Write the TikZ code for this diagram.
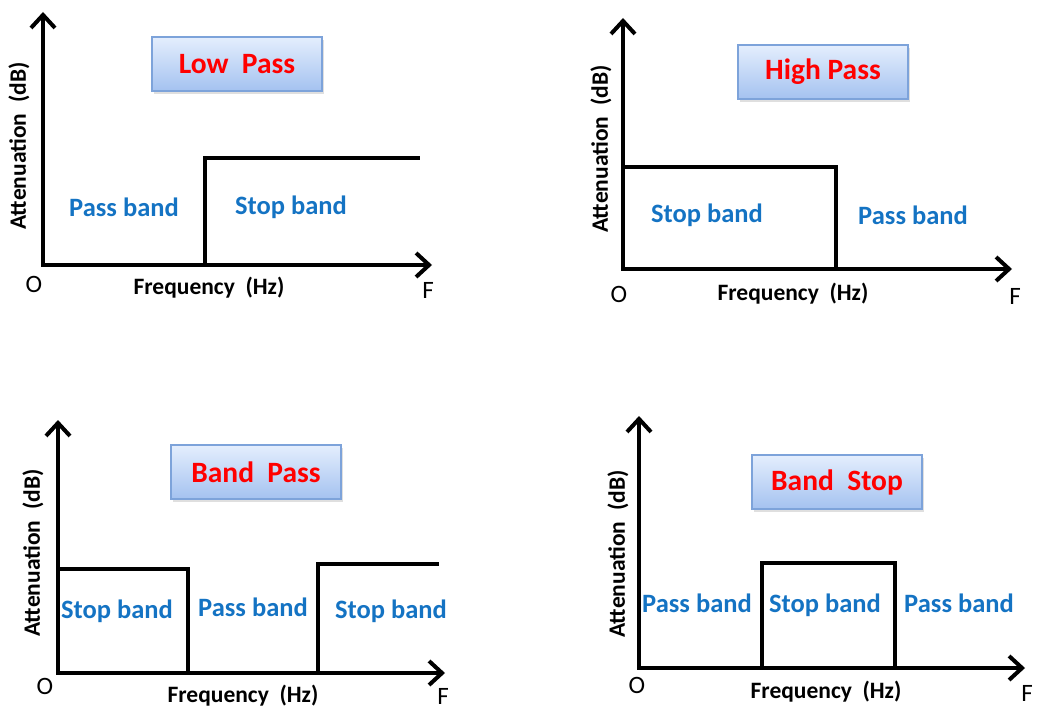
\documentclass[tikz,border=0pt]{standalone}
\usepackage{fontspec}
\setmainfont{Carlito}
\usetikzlibrary{arrows.meta,shadows}
\definecolor{bandblue}{RGB}{20,115,195}
\definecolor{boxtop}{RGB}{228,238,253}
\definecolor{boxbot}{RGB}{164,194,240}
\definecolor{boxedge}{RGB}{125,163,218}
\tikzset{
  axes/.style={line width=4pt, line join=miter,
    {Straight Barb[length=13pt,width=24pt]}-{Straight Barb[length=13pt,width=24pt]}},
  resp/.style={line width=4pt, line join=miter},
  band/.style={font=\bfseries\fontsize{26.5}{30}\selectfont, text=bandblue, inner sep=0pt},
  titlebox/.style={draw=boxedge, line width=1.2pt, top color=boxtop, bottom color=boxbot,
    minimum width=170pt, minimum height=54pt, inner sep=0pt,
    drop shadow={opacity=0.25, shadow xshift=2pt, shadow yshift=-3pt},
    font=\bfseries\fontsize{29.5}{32}\selectfont, text=red},
  axlabel/.style={font=\bfseries\fontsize{23.5}{26}\selectfont, inner sep=0pt},
  plain/.style={font=\fontsize{25}{28}\selectfont, inner sep=0pt},
}
\begin{document}
\begin{tikzpicture}[x=1pt,y=-1pt]
\path[use as bounding box] (0,0) rectangle (1043,709);
% ---------- Panel 1: Low Pass
\coordinate (a1y) at (43,12);
\coordinate (a1o) at (43,265);
\coordinate (a1x) at (432,265);
\coordinate (a1b) at (205,265);
\coordinate (a1t) at (205,158);
\coordinate (a1e) at (420,158);
\draw[axes] (a1y) -- (a1o) -- (a1x);
\draw[resp] (a1b) -- (a1t) -- (a1e);
\node[titlebox] (t1) at (237,64) {Low\ \ Pass};
\node[band] (p1a) at (124,207) {Pass band};
\node[band] (p1b) at (291,207) {Stop band};
\node[axlabel, rotate=90] (y1) at (19,146) {Attenuation\ \ (dB)};
\node[axlabel] (x1) at (209,288) {Frequency\ \ (Hz)};
\node[plain] (o1) at (34,284) {O};
\node[plain] (f1) at (428,290) {F};
% ---------- Panel 2: High Pass
\coordinate (a2y) at (623,18);
\coordinate (a2o) at (623,269);
\coordinate (a2x) at (1012,269);
\coordinate (a2t) at (623,167);
\coordinate (a2r) at (836,167);
\coordinate (a2b) at (836,269);
\draw[axes] (a2y) -- (a2o) -- (a2x);
\draw[resp] (a2t) -- (a2r) -- (a2b);
\node[titlebox] (t2) at (823,72) {High Pass};
\node[band] (p2a) at (707,215) {Stop band};
\node[band] (p2b) at (913,215) {Pass band};
\node[axlabel, rotate=90] (y2) at (601,149) {Attenuation\ \ (dB)};
\node[axlabel] (x2) at (793,294) {Frequency\ \ (Hz)};
\node[plain] (o2) at (619,294) {O};
\node[plain] (f2) at (1015,296) {F};
% ---------- Panel 3: Band Pass
\coordinate (a3y) at (58,420);
\coordinate (a3o) at (58,673);
\coordinate (a3x) at (445,673);
\coordinate (a3t) at (58,569);
\coordinate (a3r) at (188,569);
\coordinate (a3b) at (188,673);
\coordinate (a3c) at (318,673);
\coordinate (a3d) at (318,564);
\coordinate (a3e) at (439,564);
\draw[axes] (a3y) -- (a3o) -- (a3x);
\draw[resp] (a3t) -- (a3r) -- (a3b);
\draw[resp] (a3c) -- (a3d) -- (a3e);
\node[titlebox] (t3) at (256,472) {Band\ \ Pass};
\node[band] (p3a) at (117,611) {Stop band};
\node[band] (p3b) at (253,607) {Pass band};
\node[band] (p3c) at (391,611) {Stop band};
\node[axlabel, rotate=90] (y3) at (33,553) {Attenuation\ \ (dB)};
\node[axlabel] (x3) at (243,696) {Frequency\ \ (Hz)};
\node[plain] (o3) at (45,686) {O};
\node[plain] (f3) at (443,696) {F};
% ---------- Panel 4: Band Stop
\coordinate (a4y) at (639,416);
\coordinate (a4o) at (639,668);
\coordinate (a4x) at (1025,668);
\coordinate (a4l) at (762,668);
\coordinate (a4lt) at (762,563);
\coordinate (a4rt) at (895,563);
\coordinate (a4r) at (895,668);
\draw[axes] (a4y) -- (a4o) -- (a4x);
\draw[resp] (a4l) -- (a4lt) -- (a4rt) -- (a4r);
\node[titlebox] (t4) at (837,482) {Band\ \ Stop};
\node[band] (p4a) at (697,603) {Pass band};
\node[band] (p4b) at (825,605) {Stop band};
\node[band] (p4c) at (959,603) {Pass band};
\node[axlabel, rotate=90] (y4) at (618,554) {Attenuation\ \ (dB)};
\node[axlabel] (x4) at (826,692) {Frequency\ \ (Hz)};
\node[plain] (o4) at (637,685) {O};
\node[plain] (f4) at (1027,693) {F};
\end{tikzpicture}
\end{document}
